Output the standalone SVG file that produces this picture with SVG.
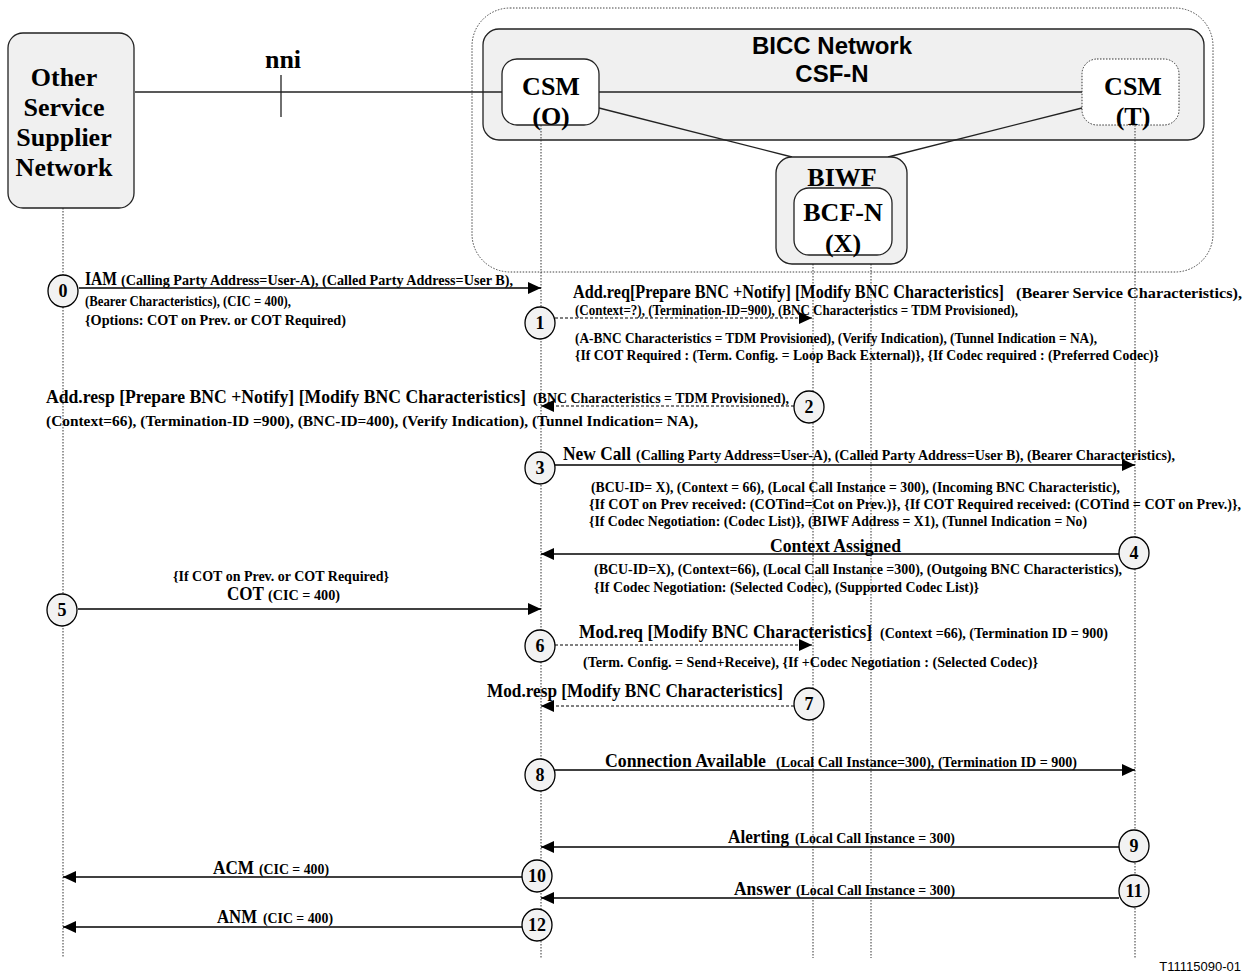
<svg xmlns="http://www.w3.org/2000/svg" width="1246" height="978" viewBox="0 0 1246 978">
<style>
.b{font-family:"Liberation Serif","Times New Roman",serif;font-weight:bold;font-size:19px;fill:#000}
.s{font-family:"Liberation Serif","Times New Roman",serif;font-weight:bold;font-size:14.5px;fill:#000}
.nd{font-family:"Liberation Serif","Times New Roman",serif;font-weight:bold;font-size:26px;fill:#000;text-anchor:middle}
.ar{font-family:"Liberation Sans",Arial,sans-serif;font-weight:bold;font-size:24px;fill:#000;text-anchor:middle}
.lab{font-family:"Liberation Sans",Arial,sans-serif;font-size:13px;fill:#000;text-anchor:end}
.box{fill:#f0f0f0;stroke:#222;stroke-width:1.3}
.wbox{fill:#fff;stroke:#222;stroke-width:1.3}
.ll{stroke:#333;stroke-width:1;stroke-dasharray:1.5 1.5;fill:none}
.ln{stroke:#222;stroke-width:1.3;fill:none}
.m{stroke:#000;stroke-width:1.3;fill:none;marker-end:url(#ah)}
.dm{stroke:#000;stroke-width:1;stroke-dasharray:3 2;fill:none;marker-end:url(#ah)}
.c{fill:#f2f2f2;stroke:#000;stroke-width:1.3}
.ct{font-family:"Liberation Serif","Times New Roman",serif;font-weight:bold;font-size:18px;text-anchor:middle;fill:#000}
</style>
<defs>
<marker id="ah" markerUnits="userSpaceOnUse" markerWidth="14" markerHeight="12" refX="13" refY="6" orient="auto">
<path d="M0,0 L13,6 L0,12 Z" fill="#000"/>
</marker>
</defs>
<rect width="1246" height="978" fill="#fff"/>

<g id="bicc-domain">
<rect x="472" y="8" width="741" height="264" rx="38" ry="38" fill="none" stroke="#444" stroke-width="1" stroke-dasharray="1.5 1.5"/>
</g>
<g id="csf-n">
<rect x="483" y="29" width="721" height="111" rx="16" ry="16" class="box"/>
<text x="832" y="54" class="ar">BICC Network</text>
<text x="832" y="82" class="ar">CSF-N</text>
</g>

<g id="connectors">
<line x1="135" y1="92" x2="502" y2="92" class="ln"/>
<line x1="281" y1="75" x2="281" y2="117" class="ln"/>
<line x1="599" y1="92" x2="1082" y2="92" class="ln"/>
<line x1="599" y1="108" x2="792" y2="157" class="ln"/>
<line x1="1082" y1="108" x2="888" y2="157" class="ln"/>
<line x1="63" y1="208" x2="63" y2="958" class="ll"/>
<line x1="541" y1="125" x2="541" y2="958" class="ll"/>
<line x1="813" y1="255" x2="813" y2="958" class="ll"/>
<line x1="871" y1="255" x2="871" y2="958" class="ll"/>
<line x1="1135" y1="125" x2="1135" y2="958" class="ll"/>

<line x1="79" y1="288" x2="541" y2="288" class="m"/>
<line x1="555" y1="318" x2="812" y2="318" class="dm"/>
<line x1="794" y1="406" x2="541" y2="406" class="dm"/>
<line x1="555" y1="465" x2="1135" y2="465" class="m"/>
<line x1="1119" y1="554" x2="541" y2="554" class="m"/>
<line x1="78" y1="609" x2="541" y2="609" class="m"/>
<line x1="555" y1="645" x2="812" y2="645" class="dm"/>
<line x1="794" y1="706" x2="541" y2="706" class="dm"/>
<line x1="555" y1="770" x2="1135" y2="770" class="m"/>
<line x1="1119" y1="847" x2="541" y2="847" class="m"/>
<line x1="522" y1="877" x2="63" y2="877" class="m"/>
<line x1="1119" y1="898" x2="541" y2="898" class="m"/>
<line x1="522" y1="927" x2="63" y2="927" class="m"/>
</g>

<g id="other-network">
<rect x="8" y="33" width="126" height="175" rx="15" ry="15" class="box"/>
<text x="64" y="86" class="nd">Other</text>
<text x="64" y="116" class="nd">Service</text>
<text x="64" y="146" class="nd">Supplier</text>
<text x="64" y="176" class="nd">Network</text>
</g>
<g id="nni">
<text x="283" y="68" class="nd">nni</text>
</g>
<g id="csm-o">
<rect x="502" y="59" width="97" height="66" rx="15" ry="15" class="wbox"/>
<text x="551" y="95" class="nd">CSM</text>
<text x="551" y="125" class="nd">(O)</text>
</g>
<g id="csm-t">
<rect x="1082" y="59" width="97" height="66" rx="15" ry="15" fill="#fff" stroke="#333" stroke-width="1" stroke-dasharray="1.5 1.5"/>
<text x="1133" y="95" class="nd">CSM</text>
<text x="1133" y="125" class="nd">(T)</text>
</g>
<g id="biwf">
<rect x="776" y="157" width="131" height="107" rx="16" ry="16" class="box"/>
<text x="842" y="186" class="nd">BIWF</text>
</g>
<g id="bcf-n">
<rect x="794" y="188" width="98" height="67" rx="15" ry="15" class="wbox"/>
<text x="843" y="221" class="nd">BCF-N</text>
<text x="843" y="252" class="nd">(X)</text>
</g>

<g id="steps">
<g id="s0"><ellipse cx="63" cy="291" rx="15" ry="16" class="c"/><text x="63" y="297" class="ct">0</text></g>
<g id="s1"><ellipse cx="540" cy="323" rx="15" ry="16" class="c"/><text x="540" y="329" class="ct">1</text></g>
<g id="s2"><ellipse cx="809" cy="407" rx="15" ry="16" class="c"/><text x="809" y="413" class="ct">2</text></g>
<g id="s3"><ellipse cx="540" cy="468" rx="15" ry="16" class="c"/><text x="540" y="474" class="ct">3</text></g>
<g id="s4"><ellipse cx="1134" cy="553" rx="15" ry="16" class="c"/><text x="1134" y="559" class="ct">4</text></g>
<g id="s5"><ellipse cx="62" cy="610" rx="15" ry="16" class="c"/><text x="62" y="616" class="ct">5</text></g>
<g id="s6"><ellipse cx="540" cy="646" rx="15" ry="16" class="c"/><text x="540" y="652" class="ct">6</text></g>
<g id="s7"><ellipse cx="809" cy="704" rx="15" ry="16" class="c"/><text x="809" y="710" class="ct">7</text></g>
<g id="s8"><ellipse cx="540" cy="775" rx="15" ry="16" class="c"/><text x="540" y="781" class="ct">8</text></g>
<g id="s9"><ellipse cx="1134" cy="846" rx="15" ry="16" class="c"/><text x="1134" y="852" class="ct">9</text></g>
<g id="s10"><ellipse cx="537" cy="876" rx="15" ry="16" class="c"/><text x="537" y="882" class="ct">10</text></g>
<g id="s11"><ellipse cx="1134" cy="891" rx="15" ry="16" class="c"/><text x="1134" y="897" class="ct">11</text></g>
<g id="s12"><ellipse cx="537" cy="925" rx="15" ry="16" class="c"/><text x="537" y="931" class="ct">12</text></g>
</g>

<g id="labels">
<text x="85" y="285" class="b" textLength="32" lengthAdjust="spacingAndGlyphs">IAM</text>
<text x="121" y="285" class="s" textLength="392" lengthAdjust="spacingAndGlyphs">(Calling Party Address=User-A), (Called Party Address=User B),</text>
<text x="85" y="306" class="s" textLength="206" lengthAdjust="spacingAndGlyphs">(Bearer Characteristics), (CIC = 400),</text>
<text x="85" y="325" class="s" textLength="261" lengthAdjust="spacingAndGlyphs">{Options: COT on Prev. or COT Required)</text>

<text x="573" y="298" class="b" textLength="431" lengthAdjust="spacingAndGlyphs">Add.req[Prepare BNC +Notify] [Modify BNC Characteristics]</text>
<text x="1016" y="298" class="s" textLength="226" lengthAdjust="spacingAndGlyphs">(Bearer Service Characteristics),</text>
<text x="575" y="315" class="s" textLength="443" lengthAdjust="spacingAndGlyphs">(Context=?), (Termination-ID=900),  (BNC Characteristics = TDM Provisioned),</text>
<text x="575" y="343" class="s" textLength="522" lengthAdjust="spacingAndGlyphs">(A-BNC Characteristics = TDM Provisioned), (Verify Indication), (Tunnel Indication = NA),</text>
<text x="575" y="360" class="s" textLength="584" lengthAdjust="spacingAndGlyphs">{If COT Required : (Term. Config. = Loop Back External)}, {If Codec required : (Preferred Codec)}</text>

<text x="46" y="403" class="b" textLength="480" lengthAdjust="spacingAndGlyphs">Add.resp [Prepare BNC +Notify] [Modify BNC Characteristics]</text>
<text x="533" y="403" class="s" textLength="256" lengthAdjust="spacingAndGlyphs">(BNC Characteristics = TDM Provisioned),</text>
<text x="46" y="426" class="s" textLength="652" lengthAdjust="spacingAndGlyphs">(Context=66), (Termination-ID =900), (BNC-ID=400), (Verify Indication), (Tunnel Indication= NA),</text>

<text x="563" y="460" class="b" textLength="68" lengthAdjust="spacingAndGlyphs">New Call</text>
<text x="636" y="460" class="s" textLength="539" lengthAdjust="spacingAndGlyphs">(Calling Party Address=User-A), (Called Party Address=User B), (Bearer Characteristics),</text>
<text x="591" y="492" class="s" textLength="529" lengthAdjust="spacingAndGlyphs">(BCU-ID= X), (Context = 66), (Local Call Instance = 300),  (Incoming BNC Characteristic),</text>
<text x="589" y="509" class="s" textLength="652" lengthAdjust="spacingAndGlyphs">{If COT on Prev received: (COTind=Cot on Prev.)}, {If COT Required received: (COTind = COT on Prev.)},</text>
<text x="589" y="526" class="s" textLength="498" lengthAdjust="spacingAndGlyphs">{If Codec Negotiation: (Codec List)}, (BIWF Address = X1), (Tunnel Indication = No)</text>

<text x="770" y="552" class="b" textLength="131" lengthAdjust="spacingAndGlyphs">Context Assigned</text>
<text x="594" y="574" class="s" textLength="528" lengthAdjust="spacingAndGlyphs">(BCU-ID=X), (Context=66), (Local Call Instance =300), (Outgoing BNC Characteristics),</text>
<text x="594" y="592" class="s" textLength="385" lengthAdjust="spacingAndGlyphs">{If Codec Negotiation: (Selected Codec), (Supported Codec List)}</text>

<text x="173" y="581" class="s" textLength="216" lengthAdjust="spacingAndGlyphs">{If COT on Prev. or COT Required}</text>
<text x="227" y="600" class="b" textLength="37" lengthAdjust="spacingAndGlyphs">COT</text>
<text x="268" y="600" class="s" textLength="72" lengthAdjust="spacingAndGlyphs">(CIC = 400)</text>

<text x="579" y="638" class="b" textLength="293" lengthAdjust="spacingAndGlyphs">Mod.req [Modify BNC Characteristics]</text>
<text x="880" y="638" class="s" textLength="228" lengthAdjust="spacingAndGlyphs">(Context =66), (Termination ID = 900)</text>
<text x="583" y="667" class="s" textLength="455" lengthAdjust="spacingAndGlyphs">(Term. Config. =  Send+Receive), {If +Codec Negotiation : (Selected Codec)}</text>

<text x="487" y="697" class="b" textLength="296" lengthAdjust="spacingAndGlyphs">Mod.resp [Modify BNC Characteristics]</text>

<text x="605" y="767" class="b" textLength="161" lengthAdjust="spacingAndGlyphs">Connection Available</text>
<text x="776" y="767" class="s" textLength="301" lengthAdjust="spacingAndGlyphs">(Local Call Instance=300), (Termination ID = 900)</text>

<text x="728" y="843" class="b" textLength="61" lengthAdjust="spacingAndGlyphs">Alerting</text>
<text x="795" y="843" class="s" textLength="160" lengthAdjust="spacingAndGlyphs">(Local Call Instance = 300)</text>

<text x="213" y="874" class="b" textLength="41" lengthAdjust="spacingAndGlyphs">ACM</text>
<text x="259" y="874" class="s" textLength="70" lengthAdjust="spacingAndGlyphs">(CIC = 400)</text>

<text x="734" y="895" class="b" textLength="57" lengthAdjust="spacingAndGlyphs">Answer</text>
<text x="796" y="895" class="s" textLength="159" lengthAdjust="spacingAndGlyphs">(Local Call Instance = 300)</text>

<text x="217" y="923" class="b" textLength="40" lengthAdjust="spacingAndGlyphs">ANM</text>
<text x="263" y="923" class="s" textLength="70" lengthAdjust="spacingAndGlyphs">(CIC = 400)</text>

<text x="1241" y="971" class="lab">T11115090-01</text>
</g>
</svg>
